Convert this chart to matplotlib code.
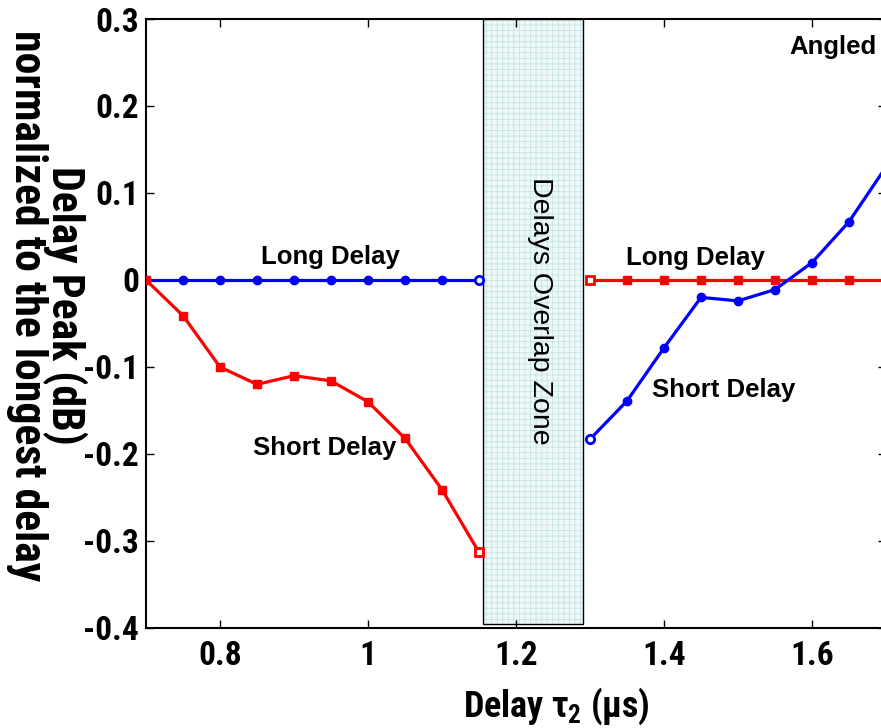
import matplotlib.pyplot as plt
from matplotlib.patches import Rectangle

# left side (before overlap zone)
x_left = [0.70, 0.75, 0.80, 0.85, 0.90, 0.95, 1.00, 1.05, 1.10, 1.15]
long_left = [0, 0, 0, 0, 0, 0, 0, 0, 0, 0]
short_left = [0, -0.041, -0.100, -0.120, -0.110, -0.116, -0.140, -0.182, -0.241, -0.313]

# right side (after overlap zone)
x_right = [1.30, 1.35, 1.40, 1.45, 1.50, 1.55, 1.60, 1.65, 1.70]
long_right = [0, 0, 0, 0, 0, 0, 0, 0, 0]
short_right = [-0.183, -0.139, -0.078, -0.020, -0.024, -0.011, 0.020, 0.067, 0.13]

zone = (1.155, 1.29)

narrow = ['Roboto Condensed', 'Liberation Sans', 'DejaVu Sans']
plt.rcParams['font.family'] = ['Liberation Sans', 'DejaVu Sans']
plt.rcParams['mathtext.fontset'] = 'custom'
plt.rcParams['mathtext.rm'] = 'Roboto Condensed:bold'
plt.rcParams['mathtext.it'] = 'Roboto Condensed:bold'
plt.rcParams['mathtext.bf'] = 'Roboto Condensed:bold'
plt.rcParams['hatch.linewidth'] = 0.6

fig = plt.figure(figsize=(8.81, 7.28), dpi=100)
ax = fig.add_axes([0.1657, 0.1374, 0.840, 0.8365])

lw = 2.3
ax.plot(x_left, long_left, color='blue', lw=lw, marker='o', ms=6, zorder=3)
ax.plot(x_left[-1], long_left[-1], 'o', ms=6, mfc='white', mec='blue', mew=2, zorder=4)
ax.plot(x_left, short_left, color='red', lw=lw, marker='s', ms=6, zorder=3)
ax.plot(x_left[-1], short_left[-1], 's', ms=6, mfc='white', mec='red', mew=2, zorder=4)

ax.plot(x_right, long_right, color='red', lw=lw, marker='s', ms=6, zorder=3)
ax.plot(x_right[0], long_right[0], 's', ms=6, mfc='white', mec='red', mew=2, zorder=4)
ax.plot(x_right, short_right, color='blue', lw=lw, marker='o', ms=6, zorder=3)
ax.plot(x_right[0], short_right[0], 'o', ms=6, mfc='white', mec='blue', mew=2, zorder=4)

# overlap zone
ax.add_patch(Rectangle((zone[0], -0.396), zone[1] - zone[0], 0.696,
                       facecolor='#eef8f8', edgecolor='#c6e4e4', hatch='+++',
                       lw=0, zorder=1))
ax.add_patch(Rectangle((zone[0], -0.396), zone[1] - zone[0], 0.696,
                       fill=False, edgecolor='black', lw=1, zorder=2))
ax.text(1.232, -0.035, 'Delays Overlap Zone', rotation=-90, ha='center', va='center',
        fontsize=20.5, zorder=5)

bold = dict(fontsize=18.5, fontweight='bold', ha='center', va='center')
ax.text(0.949, 0.026, 'Long Delay', **bold)
ax.text(0.942, -0.193, 'Short Delay', **bold)
ax.text(1.442, 0.025, 'Long Delay', **bold)
ax.text(1.481, -0.126, 'Short Delay', **bold)
ax.text(1.628, 0.268, 'Angled', **bold)

ax.set_xlim(0.7, 1.7)
ax.set_ylim(-0.4, 0.3)
ax.set_xticks([0.8, 1.0, 1.2, 1.4, 1.6])
ax.set_xticklabels(['0.8', '1', '1.2', '1.4', '1.6'])
ax.set_yticks([-0.4, -0.3, -0.2, -0.1, 0, 0.1, 0.2, 0.3])
ax.set_yticklabels(['-0.4', '-0.3', '-0.2', '-0.1', '0', '0.1', '0.2', '0.3'])
ax.tick_params(direction='in', length=6, width=1, top=True, right=True, labelsize=24)
ax.tick_params(axis='y', pad=5)
ax.tick_params(axis='x', pad=9)
for lab in ax.get_xticklabels() + ax.get_yticklabels():
    lab.set_fontweight('bold')
    lab.set_family(narrow)
for sp in ax.spines.values():
    sp.set_linewidth(1.5)

ax.set_xlabel(r'Delay $\tau_2$ ($\mu$s)', fontsize=26, fontweight='bold', family=narrow)
ax.xaxis.set_label_coords(0.555, -0.095)
fig.text(0.053, 0.58, 'Delay Peak (dB)\nnormalized to the longest delay', rotation=-90,
         ha='center', va='center', multialignment='center', fontsize=31.5,
         fontweight='bold', family=narrow, linespacing=0.8)

fig.savefig('out.png', dpi=100)
